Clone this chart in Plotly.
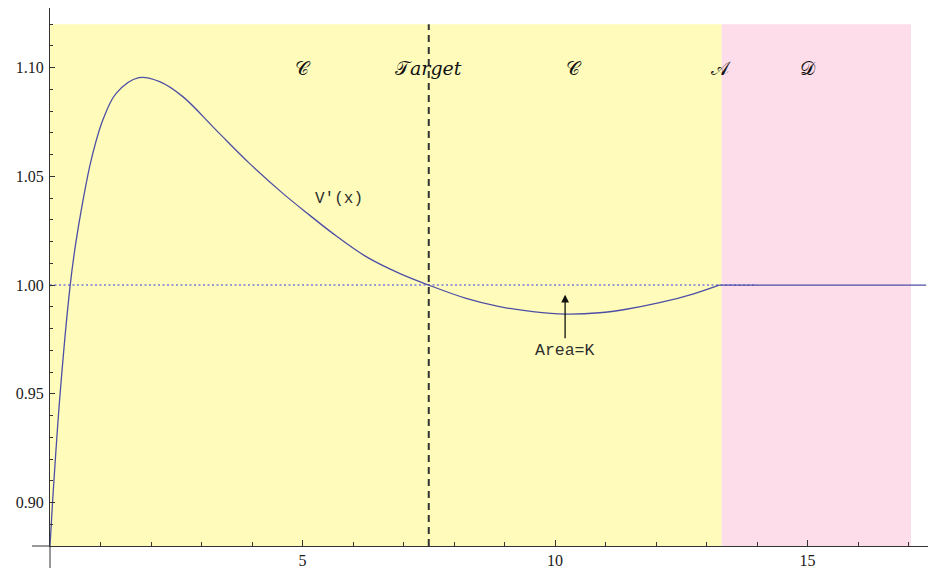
import plotly.graph_objects as go

# V'(x) sampled along the curve
curve_x = [0.0, 0.05, 0.2, 0.40, 0.505, 0.65, 0.815, 1.046, 1.31, 1.76, 2.17, 2.63,
           3.29, 3.95, 4.61, 5.14, 5.60, 6.26, 6.92, 7.50, 8.24, 8.90, 9.56, 10.22,
           10.88, 11.41, 12.07, 12.73, 13.25]
curve_y = [0.88, 0.90, 0.95, 1.00, 1.0185, 1.0385, 1.0575, 1.0759, 1.0882, 1.0954,
           1.0936, 1.0867, 1.0713, 1.056, 1.0422, 1.0322, 1.0238, 1.0131, 1.0054,
           1.0, 0.9939, 0.9901, 0.9878, 0.9867, 0.9873, 0.9889, 0.9919, 0.9959, 1.0]

# flat continuation after the boundary
flat_x = [13.25, 17.35]
flat_y = [1.0, 1.0]

# reference level and target
ref_level = 1.0
ref_x = [0.0, 14.0]
target_x = 7.5

# shaded regions
region_bounds = [0.0, 13.3, 17.05]
region_colors = ["rgb(255,252,187)", "rgb(253,221,233)"]
region_y = [0.88, 1.12]

# region labels
label_text = ["𝒞", "𝒯<i>arget</i>", "𝒞", "𝒜", "𝒟"]
label_x = [5.0, 7.5, 10.37, 13.28, 15.0]
label_y = 1.10

# axes
x_range = [0.0, 17.386]
y_range = [0.88, 1.12747]
x_ticks = [5, 10, 15]
y_ticks = [0.90, 0.95, 1.00, 1.05, 1.10]

curve_color = "rgb(78,78,165)"
axis_color = "#333333"
tick_font = dict(family="Liberation Serif", size=16, color="#1a1a1a")

fig = go.Figure()

fig.add_trace(go.Scatter(x=ref_x, y=[ref_level, ref_level], mode="lines",
                         line=dict(color="rgb(120,120,225)", width=1.5, dash="2px,2.5px"),
                         hoverinfo="skip", showlegend=False))
fig.add_trace(go.Scatter(x=curve_x, y=curve_y, mode="lines",
                         line=dict(color=curve_color, width=1.3, shape="spline", smoothing=1.0),
                         showlegend=False))
fig.add_trace(go.Scatter(x=flat_x, y=flat_y, mode="lines",
                         line=dict(color=curve_color, width=1.3),
                         showlegend=False))

shapes = []
for i, col in enumerate(region_colors):
    shapes.append(dict(type="rect", xref="x", yref="y", layer="below",
                       x0=region_bounds[i], x1=region_bounds[i + 1],
                       y0=region_y[0], y1=region_y[1],
                       fillcolor=col, line=dict(width=0)))
shapes.append(dict(type="line", xref="x", yref="y", x0=target_x, x1=target_x,
                   y0=region_y[0], y1=region_y[1],
                   line=dict(color=axis_color, width=2, dash="7px,5px")))
# axis extensions past the crossing point
shapes.append(dict(type="line", xref="paper", yref="paper", x0=-18 / 878, x1=0, y0=0, y1=0,
                   line=dict(color=axis_color, width=1)))
shapes.append(dict(type="line", xref="paper", yref="paper", x0=0, x1=0, y0=0, y1=-22 / 538,
                   line=dict(color=axis_color, width=1)))

annotations = []
for t, lx in zip(label_text, label_x):
    annotations.append(dict(x=lx, y=label_y, xref="x", yref="y", text=t, showarrow=False,
                            font=dict(family="DejaVu Serif, Liberation Serif, serif", size=19,
                                      color="#111111")))
annotations.append(dict(x=5.73, y=1.0396, xref="x", yref="y", text="V'(x)", showarrow=False,
                        font=dict(family="Liberation Mono, Courier New, monospace", size=16,
                                  color="#2e2e2e")))
annotations.append(dict(x=10.19, y=0.9697, xref="x", yref="y", text="Area=K", showarrow=False,
                        font=dict(family="Liberation Mono, Courier New, monospace", size=16.5,
                                  color="#2e2e2e")))
annotations.append(dict(x=10.2, y=0.9956, ax=10.2, ay=0.9749, xref="x", yref="y",
                        axref="x", ayref="y", text="", showarrow=True,
                        arrowhead=2, arrowsize=1.2, arrowwidth=1.3, arrowcolor="#111111"))

fig.update_layout(
    width=928, height=568,
    margin=dict(l=50, r=0, t=8, b=22),
    paper_bgcolor="white", plot_bgcolor="white",
    shapes=shapes, annotations=annotations,
    font=dict(family="Liberation Serif", size=16, color="#1a1a1a"),
)
fig.update_xaxes(range=x_range, tickvals=x_ticks, ticks="inside", ticklen=6, tickwidth=1,
                 tickcolor=axis_color, showline=True, linecolor=axis_color, linewidth=1,
                 showgrid=False, zeroline=False, mirror=False, tickfont=tick_font,
                 minor=dict(ticks="inside", ticklen=4, dtick=1, tick0=0, tickcolor=axis_color,
                            showgrid=False))
fig.update_yaxes(range=y_range, tickvals=y_ticks, tickformat=".2f", ticks="inside", ticklen=5,
                 tickwidth=1, tickcolor=axis_color, showline=True, linecolor=axis_color,
                 linewidth=1, showgrid=False, zeroline=False, ticklabelstandoff=2,
                 tickfont=tick_font,
                 minor=dict(ticks="inside", ticklen=3, dtick=0.01, tick0=0.88,
                            tickcolor=axis_color, showgrid=False))

fig.write_html("out.html")
